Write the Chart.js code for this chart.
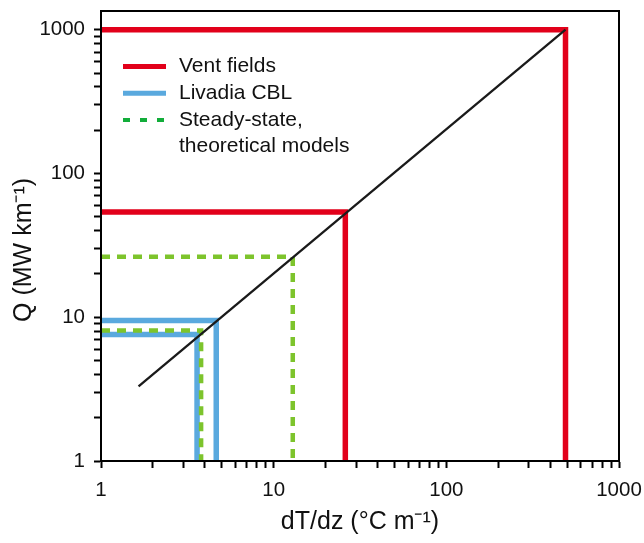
<!DOCTYPE html>
<html lang="en">
<head>
  <meta charset="UTF-8">
  <title>Q vs dT/dz</title>
  <style>
    * { margin: 0; padding: 0; box-sizing: border-box; }
    body { background: #ffffff; }
    .wrap { width: 644px; height: 543px; }
  </style>
  <script src="https://cdn.jsdelivr.net/npm/chart.js@4.4.1/dist/chart.umd.min.js"></script>
</head>
<body>
  <div class="wrap"><canvas id="qChart"></canvas></div>

  <script>
    // values (x = dT/dz, y = Q)
    const ventX = [490, 26];
    const ventQ = [1000, 54];
    const cblX = [4.65, 3.6];
    const cblQ = [9.5, 7.6];
    const modelX = [12.9, 3.8];
    const modelQ = [26.3, 8.1];
    const fitX = [1.65, 490];
    const fitQ = [3.3, 1000];

    const seriesNames = ['Vent fields', 'Livadia CBL', ['Steady-state,', 'theoretical models']];
    const tickVals = [1, 2, 3, 4, 5, 6, 7, 8, 9, 10, 20, 30, 40, 50, 60, 70, 80, 90,
                      100, 200, 300, 400, 500, 600, 700, 800, 900, 1000];
    const majorTicks = [1, 10, 100, 1000];

    const FONT = '"Liberation Sans", Arial, sans-serif';
    const RED = '#e2001a', BLUE = '#5aa9de', GREEN = '#7dc42c', GREEN_KEY = '#12ad3a';

    // each box is an L: from the left axis across, then down to the bottom axis
    function corners(xs, qs) {
      const out = [];
      xs.forEach((x, i) => {
        out.push([{ x: 1, y: qs[i] }, { x: x, y: qs[i] }, { x: x, y: 1 }]);
      });
      return out;
    }

    const datasets = [];
    corners(ventX, ventQ).forEach(pts => datasets.push({
      data: pts, borderColor: RED, borderWidth: 5.5, order: 3
    }));
    corners(cblX, cblQ).forEach(pts => datasets.push({
      data: pts, borderColor: BLUE, borderWidth: 5.5, order: 2
    }));
    corners(modelX, modelQ).forEach(pts => datasets.push({
      data: pts, borderColor: GREEN, borderWidth: 4.5, borderDash: [9, 7], order: 1
    }));
    datasets.push({
      data: fitX.map((x, i) => ({ x: x, y: fitQ[i] })),
      borderColor: '#1a1a1a', borderWidth: 2.3, order: 0
    });
    datasets.forEach(d => {
      d.showLine = true; d.pointRadius = 0; d.fill = false; d.clip = 0;
      d.borderCapStyle = 'butt'; d.borderJoinStyle = 'miter';
    });

    const frameAndKey = {
      id: 'frameAndKey',
      afterDraw(chart) {
        const { ctx, chartArea: a } = chart;
        ctx.save();
        ctx.strokeStyle = '#000';
        ctx.lineWidth = 2;
        ctx.strokeRect(a.left, a.top, a.right - a.left, a.bottom - a.top);

        // key
        const keys = [
          { color: RED, width: 5, dash: [] },
          { color: BLUE, width: 5, dash: [] },
          { color: GREEN_KEY, width: 4, dash: [7, 10] }
        ];
        ctx.font = '21px ' + FONT;
        ctx.fillStyle = '#111';
        ctx.textBaseline = 'middle';
        let y = 66.5;
        keys.forEach((k, i) => {
          ctx.beginPath();
          ctx.strokeStyle = k.color;
          ctx.lineWidth = k.width;
          ctx.setLineDash(k.dash);
          ctx.moveTo(123, y);
          ctx.lineTo(166, y);
          ctx.stroke();
          const lines = [].concat(seriesNames[i]);
          lines.forEach((t, j) => ctx.fillText(t, 179, y + j * 26.5));
          y += 26.8;
        });
        ctx.restore();
      }
    };

    function setTicks(axis) {
      axis.ticks = tickVals.map(v => ({ value: v, major: majorTicks.includes(v) }));
    }
    const tickLabel = v => majorTicks.includes(v) ? String(v) : '';

    new Chart(document.getElementById('qChart'), {
      type: 'scatter',
      data: { datasets: datasets },
      plugins: [frameAndKey],
      options: {
        responsive: true,
        maintainAspectRatio: false,
        animation: false,
        layout: { padding: { top: 11, right: 25, left: 0, bottom: 0 } },
        plugins: { legend: { display: false }, tooltip: { enabled: false } },
        scales: {
          x: {
            type: 'logarithmic',
            min: 1, max: 1000,
            afterBuildTicks: setTicks,
            afterFit: s => { s.height = 82; s.paddingLeft = 0; s.paddingRight = 0; },
            grid: { drawOnChartArea: false, drawTicks: true, tickLength: 7, tickWidth: 2, color: '#000' },
            border: { display: true, width: 2, color: '#000' },
            ticks: {
              autoSkip: false, maxRotation: 0, padding: 10,
              color: '#111', font: { family: FONT, size: 20.5 },
              callback: tickLabel
            },
            title: {
              display: true, text: 'dT/dz (°C m⁻¹)', color: '#111',
              font: { family: FONT, size: 25 }, padding: { top: 0, bottom: 6 }
            }
          },
          y: {
            type: 'logarithmic',
            min: 1, max: 1350,
            afterBuildTicks: setTicks,
            afterFit: s => { s.width = 101; s.paddingTop = 0; s.paddingBottom = 0; },
            grid: { drawOnChartArea: false, drawTicks: true, tickLength: 7, tickWidth: 2, color: '#000' },
            border: { display: true, width: 2, color: '#000' },
            ticks: {
              autoSkip: false, padding: 9,
              color: '#111', font: { family: FONT, size: 20.5 },
              callback: tickLabel
            },
            title: {
              display: true, text: 'Q (MW km⁻¹)    ', color: '#111',
              font: { family: FONT, size: 25 }, padding: { top: 9, bottom: 0 }
            }
          }
        }
      }
    });
  </script>
</body>
</html>
